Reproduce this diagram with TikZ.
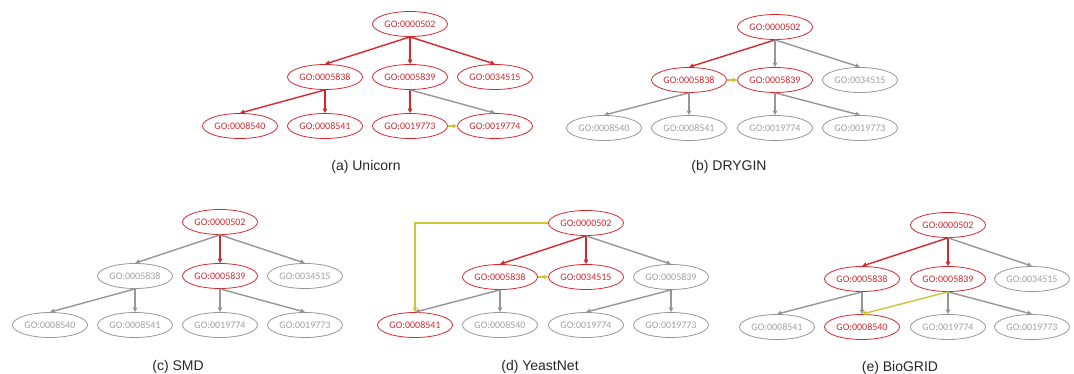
\documentclass[tikz,border=0pt]{standalone}
\usepackage{fontspec}
\setmainfont{Liberation Sans}
\newfontfamily\nodefont{Carlito}
\usetikzlibrary{arrows.meta,shapes.geometric}
\definecolor{gored}{RGB}{212,40,46}
\definecolor{gogray}{RGB}{150,150,150}
\definecolor{gotext}{RGB}{160,160,160}
\definecolor{goyel}{RGB}{200,200,60}
\tikzset{
  goterm/.style={ellipse, draw, line width=0.8pt, minimum width=75pt, minimum height=25pt, inner sep=0pt, font=\nodefont\fontsize{10}{11}\selectfont},
  hit/.style={goterm, draw=gored, text=gored},
  miss/.style={goterm, draw=gogray, text=gotext},
  goedge/.style={line width=1.4pt, -{Triangle[length=4.5pt,width=4.5pt]}},
  redge/.style={goedge, draw=gored},
  gedge/.style={goedge, draw=gogray},
  yedge/.style={goedge, draw=goyel},
  panelcap/.style={font=\fontsize{14}{16}\selectfont, text=black!85}
}
\begin{document}
\begin{tikzpicture}[x=1pt,y=-1pt]
\useasboundingbox (0,0) rectangle (1074,374);
% (a) Unicorn
\node[hit] (a0) at (410,24) {GO:0000502};
\node[hit] (a1) at (325,77) {GO:0005838};
\node[hit] (a2) at (410,77) {GO:0005839};
\node[hit] (a3) at (495,77) {GO:0034515};
\node[hit] (a4) at (240,126) {GO:0008540};
\node[hit] (a5) at (325,126) {GO:0008541};
\node[hit] (a6) at (410,126) {GO:0019773};
\node[hit] (a7) at (495,126) {GO:0019774};
\draw[redge] (a0.south) -- (a1.north);
\draw[redge] (a0.south) -- (a2.north);
\draw[redge] (a0.south) -- (a3.north);
\draw[redge] (a1.south) -- (a4.north);
\draw[redge] (a1.south) -- (a5.north);
\draw[redge] (a2.south) -- (a6.north);
\draw[gedge] (a2.south) -- (a7.north);
\draw[yedge] (a6.east) -- (a7.west);
\node[panelcap] (acap) at (366,167) {(a) Unicorn};
% (b) DRYGIN
\node[hit] (b0) at (775,27) {GO:0000502};
\node[hit] (b1) at (689,80) {GO:0005838};
\node[hit] (b2) at (775,80) {GO:0005839};
\node[miss] (b3) at (860,80) {GO:0034515};
\node[miss] (b4) at (604,128) {GO:0008540};
\node[miss] (b5) at (689,128) {GO:0008541};
\node[miss] (b6) at (775,128) {GO:0019774};
\node[miss] (b7) at (860,128) {GO:0019773};
\draw[redge] (b0.south) -- (b1.north);
\draw[gedge] (b0.south) -- (b2.north);
\draw[gedge] (b0.south) -- (b3.north);
\draw[gedge] (b1.south) -- (b4.north);
\draw[gedge] (b1.south) -- (b5.north);
\draw[gedge] (b2.south) -- (b6.north);
\draw[gedge] (b2.south) -- (b7.north);
\draw[yedge] (b1.east) -- (b2.west);
\node[panelcap] (bcap) at (729,167) {(b) DRYGIN};
% (c) SMD
\node[hit] (c0) at (220,222) {GO:0000502};
\node[miss] (c1) at (135,276) {GO:0005838};
\node[hit] (c2) at (220,276) {GO:0005839};
\node[miss] (c3) at (305,276) {GO:0034515};
\node[miss] (c4) at (50,325) {GO:0008540};
\node[miss] (c5) at (135,325) {GO:0008541};
\node[miss] (c6) at (220,325) {GO:0019774};
\node[miss] (c7) at (305,325) {GO:0019773};
\draw[gedge] (c0.south) -- (c1.north);
\draw[redge] (c0.south) -- (c2.north);
\draw[gedge] (c0.south) -- (c3.north);
\draw[gedge] (c1.south) -- (c4.north);
\draw[gedge] (c1.south) -- (c5.north);
\draw[gedge] (c2.south) -- (c6.north);
\draw[gedge] (c2.south) -- (c7.north);
\node[panelcap] (ccap) at (178,367) {(c) SMD};
% (d) YeastNet
\node[hit] (d0) at (586,223) {GO:0000502};
\node[hit] (d1) at (500,277) {GO:0005838};
\node[hit] (d2) at (586,277) {GO:0034515};
\node[miss] (d3) at (671,277) {GO:0005839};
\node[hit] (d4) at (415,325) {GO:0008541};
\node[miss] (d5) at (500,325) {GO:0008540};
\node[miss] (d6) at (586,325) {GO:0019774};
\node[miss] (d7) at (671,325) {GO:0019773};
\draw[redge] (d0.south) -- (d1.north);
\draw[redge] (d0.south) -- (d2.north);
\draw[gedge] (d0.south) -- (d3.north);
\draw[gedge] (d1.south) -- (d4.north);
\draw[gedge] (d1.south) -- (d5.north);
\draw[gedge] (d3.south) -- (d6.north);
\draw[gedge] (d3.south) -- (d7.north);
\draw[yedge] (d1.east) -- (d2.west);
\draw[yedge] (d0.west) -| (d4.north);
\node[panelcap] (dcap) at (540,367) {(d) YeastNet};
% (e) BioGRID
\node[hit] (e0) at (948,225) {GO:0000502};
\node[hit] (e1) at (862,279) {GO:0005838};
\node[hit] (e2) at (948,279) {GO:0005839};
\node[miss] (e3) at (1032,279) {GO:0034515};
\node[miss] (e4) at (777,327) {GO:0008541};
\node[hit] (e5) at (862,327) {GO:0008540};
\node[miss] (e6) at (948,327) {GO:0019774};
\node[miss] (e7) at (1032,327) {GO:0019773};
\draw[redge] (e0.south) -- (e1.north);
\draw[redge] (e0.south) -- (e2.north);
\draw[gedge] (e0.south) -- (e3.north);
\draw[gedge] (e1.south) -- (e4.north);
\draw[gedge] (e1.south) -- (e5.north);
\draw[gedge] (e2.south) -- (e6.north);
\draw[gedge] (e2.south) -- (e7.north);
\draw[yedge] (e2.south) -- (e5.north);
\node[panelcap] (ecap) at (900,368) {(e) BioGRID};
\end{tikzpicture}
\end{document}
